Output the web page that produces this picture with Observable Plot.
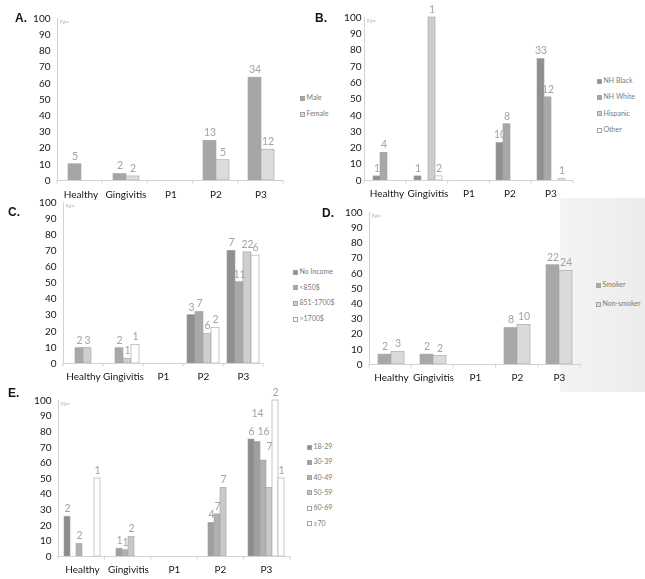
<!DOCTYPE html>
<html><head><meta charset="utf-8">
<script src="https://cdn.jsdelivr.net/npm/d3@7"></script>
<script src="https://cdn.jsdelivr.net/npm/@observablehq/plot@0.6"></script>
<style>
body{margin:0;background:#fff;font-family:Lato,sans-serif;}
#root{position:relative;width:645px;height:579px;overflow:hidden;background:#fff;}
.letter{position:absolute;font:bold 12px/1 "Liberation Sans",Arial,sans-serif;color:#151515;}
.nlab{position:absolute;font:6.5px/1 Lato,sans-serif;color:#b0b0b0;}
.lg{position:absolute;font:7px/1 Lato,sans-serif;color:#7a7a7a;white-space:nowrap;}
.lg .sw{display:inline-block;width:5px;height:5px;margin-right:1.5px;box-sizing:border-box;border:0.8px solid #a3a3a3;vertical-align:-0.5px;}
.shade{position:absolute;left:560px;top:198px;width:85px;height:194px;background:linear-gradient(to right,#f4f4f4,#ececec);}
svg{will-change:transform;}
</style></head><body><div id="root"><div class="shade"></div></div>
<script>
const categories = ["Healthy", "Gingivitis", "P1", "P2", "P3"];

// A. Sex
const sexSeries = ["Male", "Female"];
const sexValues = [
  [10, 4, 0, 24.5, 63.5],
  [0, 2.5, 0, 12.5, 19]
];
const sexN = [
  ["5", "2", null, "13", "34"],
  [null, "2", null, "5", "12"]
];
const sexColors = ["#a6a6a6", "#dcdcdc"];

// B. Race / ethnicity
const raceSeries = ["NH Black", "NH White", "Hispanic", "Other"];
const raceValues = [
  [2.5, 2.5, 0, 23, 74.5],
  [17, 0, 0, 34.5, 51],
  [0, 100, 0, 0, 0],
  [0, 2.5, 0, 0, 1]
];
const raceN = [
  ["1", "1", null, "10", "33"],
  ["4", null, null, "8", "12"],
  [null, "1", null, null, null],
  [null, "2", null, null, "1"]
];
const raceColors = ["#8f8f8f", "#a8a8a8", "#cdcdcd", "#ffffff"];

// C. Income
const incomeSeries = ["No Income", "<850$", "851-1700$", ">1700$"];
const incomeValues = [
  [0, 0, 0, 30, 70],
  [9.5, 9.5, 0, 32, 50.5],
  [9.5, 3, 0, 18.5, 69],
  [0, 11.5, 0, 22, 67]
];
const incomeN = [
  [null, null, null, "3", "7"],
  ["2", "2", null, "7", "11"],
  ["3", "1", null, "6", "22"],
  [null, "1", null, "2", "6"]
];
const incomeColors = ["#8f8f8f", "#a8a8a8", "#cfcfcf", "#ffffff"];

// D. Smoking
const smokeSeries = ["Smoker", "Non-smoker"];
const smokeValues = [
  [6.5, 6.5, 0, 24, 65.3],
  [8.3, 5.5, 0, 26, 61.6]
];
const smokeN = [
  ["2", "2", null, "8", "22"],
  ["3", "2", null, "10", "24"]
];
const smokeColors = ["#a8a8a8", "#dadada"];

// E. Age
const ageSeries = ["18-29", "30-39", "40-49", "50-59", "60-69", "\u226570"];
const ageValues = [
  [25.5, 0, 0, 0, 75],
  [0, 5, 0, 21.5, 73.5],
  [8, 4, 0, 27, 61.5],
  [0, 12.5, 0, 44, 44],
  [0, 0, 0, 0, 100],
  [50, 0, 0, 0, 50]
];
const ageN = [
  ["2", null, null, null, "6"],
  [null, "1", null, "4", "14"],
  ["2", "1", null, "7", "16"],
  [null, "2", null, "7", "7"],
  [null, null, null, null, "2"],
  ["1", null, null, null, "1"]
];
// heights (in %) at which some N labels were lifted above their bars in the original
const ageNLift = [
  [null, null, null, null, null],
  [null, null, null, null, 86.5],
  [null, null, null, null, 75],
  [null, null, null, null, 65],
  [null, null, null, null, null],
  [null, null, null, null, null]
];
const ageColors = ["#8c8c8c", "#9f9f9f", "#b1b1b1", "#c9c9c9", "#ffffff", "#ffffff"];

const yTicks = [0, 10, 20, 30, 40, 50, 60, 70, 80, 90, 100];

// layout (pixel placement of each panel)
const panels = [
  {letter: "A.", lx: 15, ly: 11.5, series: sexSeries, values: sexValues, n: sexN, colors: sexColors,
   left: 0, top: 0, width: 288, height: 202, ml: 57, mr: 5, mt: 18, mb: 22, pad: 0.667, ypad: 8, xpad: 10,
   legend: {x: 300, y: 94, gap: 16}},
  {letter: "B.", lx: 315, ly: 12, series: raceSeries, values: raceValues, n: raceN, colors: raceColors,
   left: 320, top: 0, width: 258, height: 202, ml: 44, mr: 5, mt: 17, mb: 22, pad: 0.8, ypad: 5, xpad: 9,
   legend: {x: 597, y: 77, gap: 16.4}},
  {letter: "C.", lx: 8, ly: 205.5, series: incomeSeries, values: incomeValues, n: incomeN, colors: incomeColors,
   left: 0, top: 195, width: 268, height: 190, ml: 63, mr: 5, mt: 7, mb: 22, pad: 0.5, ypad: 7, xpad: 9.5,
   legend: {x: 293, y: 268, gap: 15.7}},
  {letter: "D.", lx: 322, ly: 206.5, series: smokeSeries, values: smokeValues, n: smokeN, colors: smokeColors,
   left: 320, top: 195, width: 265, height: 191, ml: 49, mr: 5, mt: 17, mb: 22, pad: 0.615, ypad: 8, xpad: 9.5,
   legend: {x: 596, y: 281, gap: 19}},
  {letter: "E.", lx: 8, ly: 386.5, series: ageSeries, values: ageValues, n: ageN, lift: ageNLift, colors: ageColors,
   left: 0, top: 385, width: 295, height: 193, ml: 58, mr: 5, mt: 15, mb: 22, pad: 0.75, ypad: 8, xpad: 9,
   legend: {x: 307, y: 443, gap: 15.3}}
];

const root = document.getElementById("root");

function addDiv(cls, x, y, html) {
  const d = document.createElement("div");
  d.className = cls;
  d.style.left = x + "px";
  d.style.top = y + "px";
  d.innerHTML = html;
  root.appendChild(d);
  return d;
}

for (const p of panels) {
  const rows = [];
  p.series.forEach((s, i) => categories.forEach((c, j) => {
    const lift = p.lift ? p.lift[i][j] : null;
    rows.push({cat: c, series: s, value: p.values[i][j], n: p.n[i][j],
      labelAt: lift != null ? lift : p.values[i][j]});
  }));

  const chart = Plot.plot({
    width: p.width, height: p.height,
    marginLeft: p.ml, marginRight: p.mr, marginTop: p.mt, marginBottom: p.mb,
    style: {fontFamily: "Lato, sans-serif", fontSize: "10px", color: "#161616", background: "none", overflow: "visible"},
    facet: {data: rows, x: "cat"},
    fx: {domain: categories, paddingInner: 0, paddingOuter: 0, axis: "bottom", label: null, tickSize: 0, tickPadding: p.xpad},
    x: {domain: p.series, axis: null, paddingInner: 0, paddingOuter: p.pad},
    y: {domain: [0, 100], ticks: yTicks, tickSize: 0, tickPadding: p.ypad, label: null},
    color: {domain: p.series, range: p.colors},
    marks: [
      Plot.barY(rows, {filter: d => d.value > 0, x: "series", y: "value", fill: "series",
        stroke: "#a2a2a2", strokeWidth: 0.6}),
      Plot.text(rows, {filter: d => d.n != null, x: "series", y: "labelAt", text: "n", dy: -8,
        fill: "#a3a3a3", fontSize: 10.5})
    ]
  });
  chart.style.position = "absolute";
  chart.style.left = p.left + "px";
  chart.style.top = p.top + "px";
  root.appendChild(chart);

  // axis lines drawn from the plot's own y scale and frame
  const ys = chart.scale("y");
  const y0 = ys.apply(0), y100 = ys.apply(100);
  const x0 = p.ml, x1 = p.width - p.mr;
  const step = (x1 - x0) / categories.length;
  const g = d3.select(chart).append("g").attr("stroke", "#d2d2d2").attr("stroke-width", 1);
  g.append("line").attr("x1", x0 + 0.5).attr("x2", x0 + 0.5).attr("y1", y0).attr("y2", y100);
  g.append("line").attr("x1", x0).attr("x2", x1).attr("y1", y0 + 0.5).attr("y2", y0 + 0.5);
  d3.range(categories.length + 1).forEach(k =>
    g.append("line").attr("x1", x0 + k * step).attr("x2", x0 + k * step).attr("y1", y0).attr("y2", y0 + 3.5));

  // panel letter, N= and legend
  addDiv("letter", p.lx, p.ly, p.letter);
  addDiv("nlab", p.left + x0 + 3, p.top + y100 + 1, "N=");
  p.series.forEach((s, i) => {
    addDiv("lg", p.legend.x, p.legend.y + i * p.legend.gap,
      `<span class="sw" style="background:${p.colors[i]}"></span>${s.replace("<", "&lt;").replace(">", "&gt;")}`);
  });
}
</script></body></html>
